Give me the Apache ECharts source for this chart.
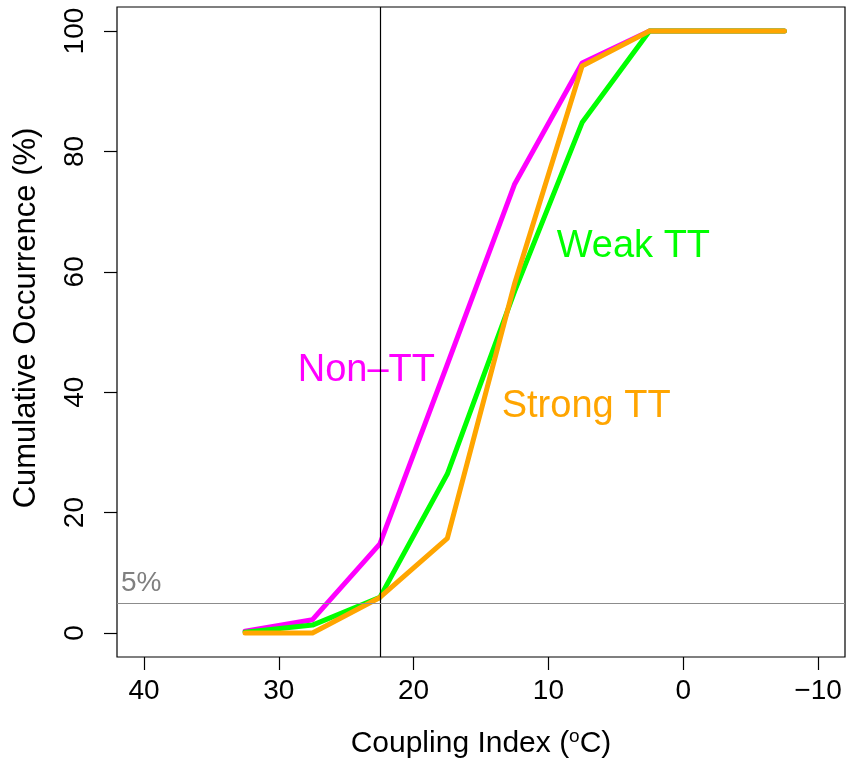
<!DOCTYPE html>
<html>
<head>
<meta charset="utf-8">
<script src="https://cdn.jsdelivr.net/npm/echarts@6/dist/echarts.min.js"></script>
<style>
  html, body { margin: 0; padding: 0; background: #fff; }
  #chart { width: 847px; height: 764px; }
</style>
</head>
<body>
<div id="chart"></div>
<script>
// Coupling index bins (°C) and cumulative occurrence (%) per regime
const coupling = [32.5, 27.5, 22.5, 17.5, 12.5, 7.5, 2.5, -2.5, -7.5];
const nonTT    = [0.3, 2.2, 14.8, 44.6, 74.6, 94.7, 100, 100, 100];
const weakTT   = [0.1, 1.3, 5.9, 26.4, 56.8, 84.8, 100, 100, 100];
const strongTT = [0, 0, 5.9, 15.7, 58.1, 94.2, 100, 100, 100];

const xTicks = [40, 30, 20, 10, 0, -10];
const yTicks = [0, 20, 40, 60, 80, 100];

const thresholdX = 22.5;   // vertical reference line
const thresholdY = 5;      // 5% reference line

// Series labels: [text, x, y, colour]
const seriesLabels = [
  ['Non\u2013TT', 23.5, 43.6, '#FF00FF'],
  ['Weak TT', 3.7, 64.2, '#00FF00'],
  ['Strong TT', 7.2, 37.7, '#FFA500']
];
const refLabel = ['5%', 40.2, 8.3];

const FONT = '"Liberation Sans", Arial, Helvetica, sans-serif';

function pairs(ys) { return coupling.map((x, i) => [x, ys[i]]); }

function lineSeries(name, ys, color, extra) {
  return Object.assign({
    name: name,
    type: 'line',
    data: pairs(ys),
    showSymbol: false,
    symbol: 'none',
    silent: true,
    lineStyle: { color: color, width: 5, join: 'round', cap: 'round' }
  }, extra || {});
}

const chart = echarts.init(document.getElementById('chart'), null, { renderer: 'canvas' });

const option = {
  animation: false,
  backgroundColor: '#fff',
  grid: {
    left: 117, right: 2, top: 7, bottom: 99,
    show: true, borderColor: '#000', borderWidth: 1.2, backgroundColor: 'transparent'
  },
  xAxis: {
    type: 'value', min: -12, max: 42, inverse: true,
    axisLine: { show: false, onZero: false },
    splitLine: { show: false },
    axisTick: { show: true, length: 13, customValues: xTicks, lineStyle: { color: '#000', width: 1.2 } },
    axisLabel: {
      customValues: xTicks, fontSize: 28, fontFamily: FONT, color: '#000', margin: 20,
      formatter: v => (v < 0 ? '\u2212' + Math.abs(v) : String(v))
    },
    name: '{a|Coupling Index (}{s|o}{a|C)}',
    nameLocation: 'middle', nameGap: 70,
    nameTextStyle: {
      rich: {
        a: { fontSize: 30, fontFamily: FONT, color: '#000', lineHeight: 34 },
        s: { fontSize: 19, fontFamily: FONT, color: '#000', verticalAlign: 'top', lineHeight: 24 }
      }
    }
  },
  yAxis: {
    type: 'value', min: -4, max: 104,
    axisLine: { show: false, onZero: false },
    splitLine: { show: false },
    axisTick: { show: true, length: 13, customValues: yTicks, lineStyle: { color: '#000', width: 1.2 } },
    axisLabel: {
      customValues: yTicks, fontSize: 28, fontFamily: FONT, color: '#000', margin: 28, rotate: 90
    }
  },
  series: [
    lineSeries('Non-TT', nonTT, '#FF00FF'),
    lineSeries('Weak TT', weakTT, '#00FF00'),
    lineSeries('Strong TT', strongTT, '#FFA500', {
      markLine: {
        silent: true,
        symbol: 'none',
        label: { show: false },
        z: 10,
        data: [
          { xAxis: thresholdX, lineStyle: { color: '#000', width: 1.2, type: 'solid' } },
          { yAxis: thresholdY, lineStyle: { color: '#8c8c8c', width: 1.2, type: 'solid' } }
        ]
      }
    })
  ]
};

chart.setOption(option);

// Text labels placed at data coordinates
const texts = seriesLabels.map(([t, x, y, c]) => {
  const p = chart.convertToPixel({ gridIndex: 0 }, [x, y]);
  return {
    type: 'text', x: p[0], y: p[1], z: 5,
    style: { text: t, fill: c, font: '38px ' + FONT, align: 'center', verticalAlign: 'middle' }
  };
});
const rp = chart.convertToPixel({ gridIndex: 0 }, [refLabel[1], refLabel[2]]);
texts.push({
  type: 'text', x: rp[0], y: rp[1], z: 5,
  style: { text: refLabel[0], fill: '#808080', font: '28px ' + FONT, align: 'center', verticalAlign: 'middle' }
});
// Y axis title, rotated to read bottom-to-top
texts.push({
  type: 'text', x: 26, y: 318, rotation: Math.PI / 2, z: 5,
  style: { text: 'Cumulative Occurrence (%)', fill: '#000', font: '31px ' + FONT, align: 'center', verticalAlign: 'middle' }
});
chart.setOption({ graphic: texts });
</script>
</body>
</html>
